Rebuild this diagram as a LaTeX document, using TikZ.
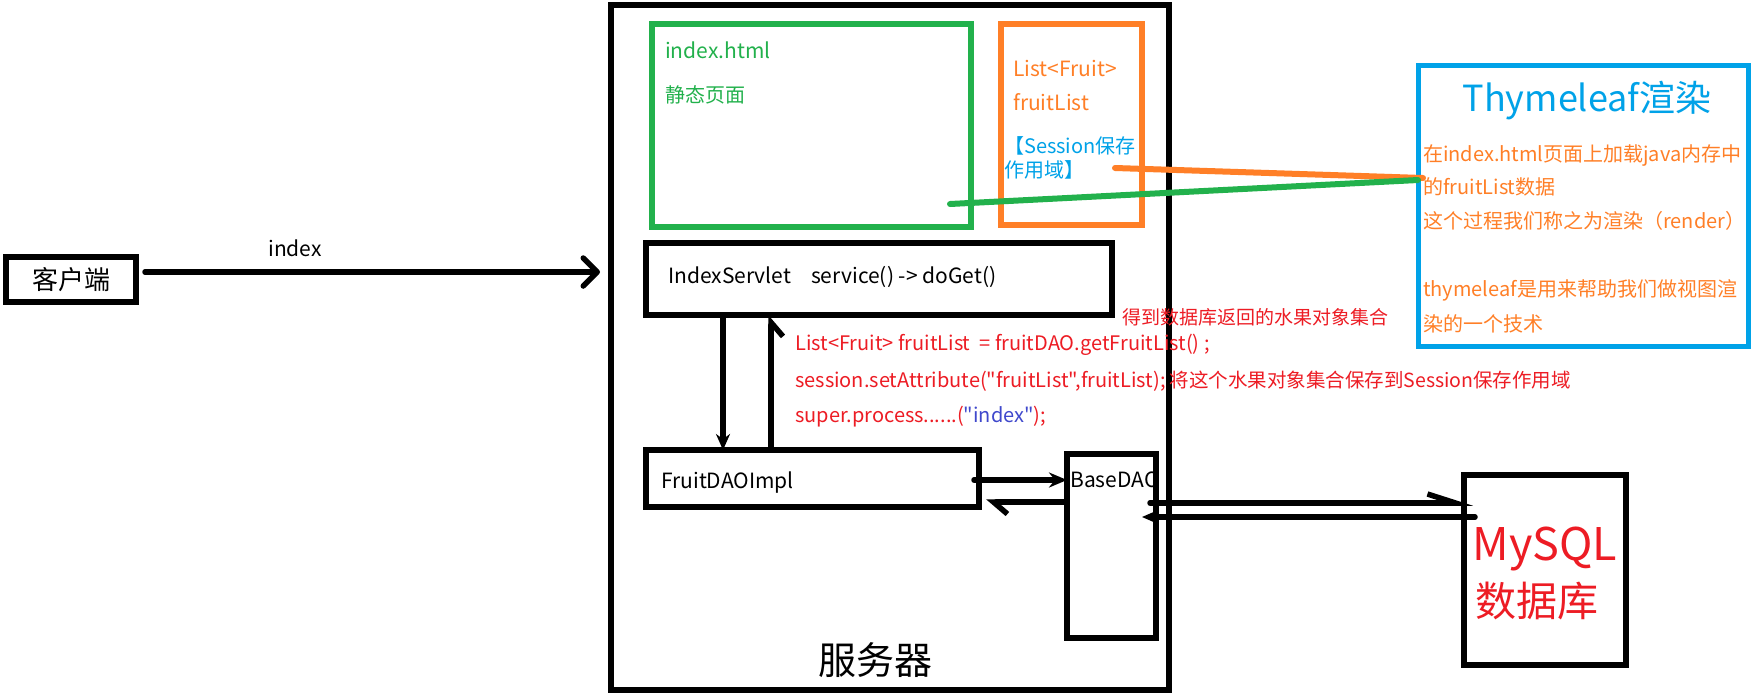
\documentclass[tikz,border=0pt]{standalone}
\usepackage{fontspec}
\setmainfont{Noto Sans CJK SC}[Ligatures=TeXOff]
\usetikzlibrary{arrows.meta}
\definecolor{pgreen}{HTML}{22B14C}
\definecolor{porange}{HTML}{FF7F27}
\definecolor{pblue}{HTML}{00A2E8}
\definecolor{pred}{HTML}{ED1C24}
\definecolor{pindigo}{HTML}{3F48CC}
\newcommand\pxfont[1]{\fontsize{#1}{#1}\selectfont}
\begin{document}
\begin{tikzpicture}[x=1pt,y=-1pt,
  box/.style={draw, line width=5.5pt, inner sep=0pt, outer sep=0pt},
  arr/.style={line width=5.5pt, line cap=round},
  link/.style={line width=6pt, line cap=round},
  txt/.style={anchor=base west, inner sep=0pt},
  ctxt/.style={anchor=base, inner sep=0pt}]
\fill[white] (0,0) rectangle (1754,694);
\useasboundingbox (0,0) rectangle (1754,694);

% boxes
\node[box, minimum width=130pt, minimum height=45pt, font=\pxfont{26}] (client) at (71,279.5) {客户端};
\node[box, minimum width=558pt, minimum height=685pt] (server) at (890,347.5) {};
\node[box, draw=pgreen, minimum width=319pt, minimum height=203pt] (page) at (811.5,125.5) {};
\node[box, draw=porange, minimum width=141pt, minimum height=201pt] (sess) at (1071.5,124.5) {};
\node[box, draw=pblue, line width=5pt, minimum width=330pt, minimum height=281pt] (thyme) at (1583,205.5) {};
\node[box, minimum width=466pt, minimum height=72pt] (servlet) at (879,279) {};
\node[box, minimum width=333pt, minimum height=57pt] (fruit) at (812.5,478.5) {};
\node[box, minimum width=89pt, minimum height=184pt] (base) at (1111.5,546) {};
\node[box, minimum width=162pt, minimum height=190pt] (mysql) at (1545,570) {};

% texts
\node[ctxt, font=\pxfont{38}] (srvtxt) at (875,674) {服务器};
\node[ctxt, font=\pxfont{21}] (idxlbl) at (295,256) {index};
\node[txt, font=\pxfont{21}, text=pgreen] (t1) at (665,58) {index.html};
\node[txt, font=\pxfont{20}, text=pgreen] (t2) at (665,102) {静态页面};
\node[txt, font=\pxfont{21}, text=porange] (t3) at (1013,76) {List<Fruit>};
\node[txt, font=\pxfont{21}, text=porange] (t4) at (1013,110) {fruitList};
\node[txt, font=\pxfont{20}, text=pblue] (t5) at (1004,153) {【Session保存};
\node[txt, font=\pxfont{20}, text=pblue] (t6) at (1004,177) {作用域】};
\node[ctxt, font=\pxfont{36}, text=pblue] (tt) at (1587,111) {Thymeleaf渲染};
\node[txt, font=\pxfont{20}, text=porange] (r1) at (1423,161) {在index.html页面上加载java内存中};
\node[txt, font=\pxfont{20}, text=porange] (r2) at (1423,194) {的fruitList数据};
\node[txt, font=\pxfont{20}, text=porange] (r3) at (1423,228) {这个过程我们称之为渲染（render）};
\node[txt, font=\pxfont{20}, text=porange] (r4) at (1423,296) {thymeleaf是用来帮助我们做视图渲};
\node[txt, font=\pxfont{20}, text=porange] (r5) at (1423,331) {染的一个技术};
\node[txt, font=\pxfont{21}] (stxt) at (668,283) {IndexServlet\hspace{20pt}service() -> doGet()};
\node[txt, font=\pxfont{21}] (ftxt) at (661,488) {FruitDAOImpl};
\node[txt, font=\pxfont{21}] (btxt) at (1070,487) {BaseDAO};
\node[ctxt, font=\pxfont{45}, text=pred] (mtxt) at (1545,560) {MySQL};
\node[txt, font=\pxfont{41}, text=pred] (dtxt) at (1475,616) {数据库};
\node[txt, font=\pxfont{19}, text=pred] (c0) at (1122,324) {得到数据库返回的水果对象集合};
\node[txt, font=\pxfont{20}, text=pred] (c1) at (795,350) {List<Fruit> fruitList\ \ = fruitDAO.getFruitList() ;};
\node[txt, font=\pxfont{20}, text=pred] (c2) at (795,387) {session.setAttribute("fruitList",fruitList);\hspace{4pt}{\pxfont{19.5}将这个水果对象集合保存到Session保存作用域}};
\node[txt, font=\pxfont{20}, text=pred] (c3) at (795,422) {super.process......(\textcolor{pindigo}{"index"});};

% connectors
\draw[arr, -{Straight Barb[length=14pt,width=28pt,round]}] ([xshift=9pt,yshift=7.5pt]client.east) -- ([xshift=-11pt,yshift=7.5pt]client.east -| server.west);
\draw[arr, -{Stealth[length=16pt,width=14pt]}] ([xshift=77pt]servlet.south west) -- ([xshift=77pt]servlet.south west |- fruit.north);
\draw[arr, -{Straight Barb[right,length=14pt,width=24pt]}] ([xshift=125pt]fruit.north west) -- ([xshift=125pt]fruit.north west |- servlet.south);
\draw[arr, -{Stealth[length=18pt,width=15pt]}] ([xshift=-5pt,yshift=-1.5pt]fruit.east) -- ([yshift=-1.5pt]fruit.east -| base.west);
\draw[arr, -{Straight Barb[left,length=14pt,width=24pt]}] ([yshift=-23.5pt]fruit.east -| base.west) -- ([xshift=7pt,yshift=-23.5pt]fruit.east);
\draw[arr, -{Straight Barb[left,length=28pt,width=18pt]}] ([xshift=-6pt,yshift=43pt]base.east) -- ([xshift=9pt,yshift=43pt]base.east -| mysql.west);
\draw[arr, -{Stealth[length=14pt,width=12pt]}] ([xshift=11pt,yshift=29pt]base.east -| mysql.west) -- ([xshift=-14pt,yshift=29pt]base.east);

\coordinate (ostart) at (1115,168);
\coordinate (gstart) at (950,204);
\draw[link, porange] (ostart) -- ([xshift=5pt,yshift=27.5pt]thyme.west);
\draw[link, pgreen] (gstart) -- ([yshift=25.5pt]thyme.west);
\end{tikzpicture}
\end{document}
